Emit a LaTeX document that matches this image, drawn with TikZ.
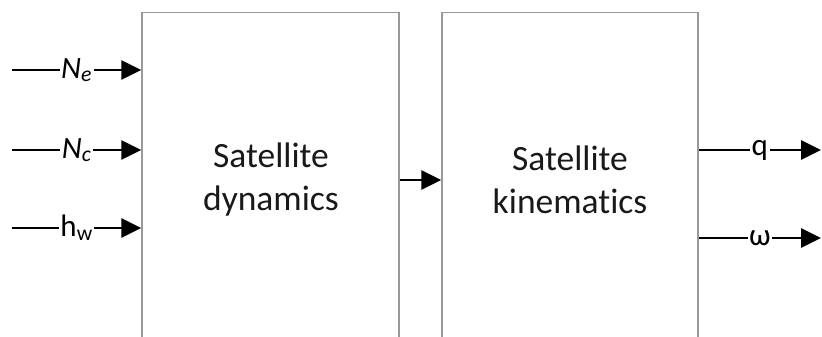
\documentclass[tikz,border=0pt]{standalone}
\usepackage{fontspec}
\setmainfont[RawFeature=-liga]{Carlito}
\usetikzlibrary{arrows.meta}
\begin{document}
\begin{tikzpicture}[x=1pt,y=-1pt,
  boxframe/.style={draw=black!40, line width=1.5pt, minimum width=257pt,
    minimum height=500pt, inner sep=0pt, anchor=north},
  title/.style={font=\fontsize{35.5}{43}\selectfont, align=center, text=black!90},
  sig/.style={line width=2.8pt, -{Triangle[length=20pt,width=19pt]}},
  siglabel/.style={fill=white, inner sep=1.5pt, text=black,
    font=\fontsize{31}{34}\selectfont}]
\path[use as bounding box, clip] (0,0) rectangle (822,337);

% the two blocks (they run on below the lower edge)
\node[boxframe] (dynbox) at (270.5,12) {};
\node[boxframe, minimum width=256pt] (kinbox) at (570,12) {};
\node[title] (dyn) at (271,180) {Satellite\\dynamics};
\node[title] (kin) at (570,180) {Satellite\\kinematics};

% inputs
\coordinate (ne) at (12,70);
\coordinate (nc) at (12,150);
\coordinate (hw) at (12,228);
\draw[sig] (ne) -- node[siglabel] {\itshape N\textsubscript{e}} (dynbox.west |- ne);
\draw[sig] (nc) -- node[siglabel] {\itshape N\textsubscript{c}} (dynbox.west |- nc);
\draw[sig] (hw) -- node[siglabel] {h\textsubscript{w}} (dynbox.west |- hw);

% coupling between the blocks
\coordinate (mid) at (0,180);
\draw[sig] (dynbox.east |- mid) -- (kinbox.west |- mid);

% outputs
\coordinate (qo) at (821,150);
\coordinate (wo) at (821,238);
\draw[sig] (kinbox.east |- qo) -- node[siglabel] {q} (qo);
\draw[sig] (kinbox.east |- wo) -- node[siglabel] {ω} (wo);
\end{tikzpicture}
\end{document}
